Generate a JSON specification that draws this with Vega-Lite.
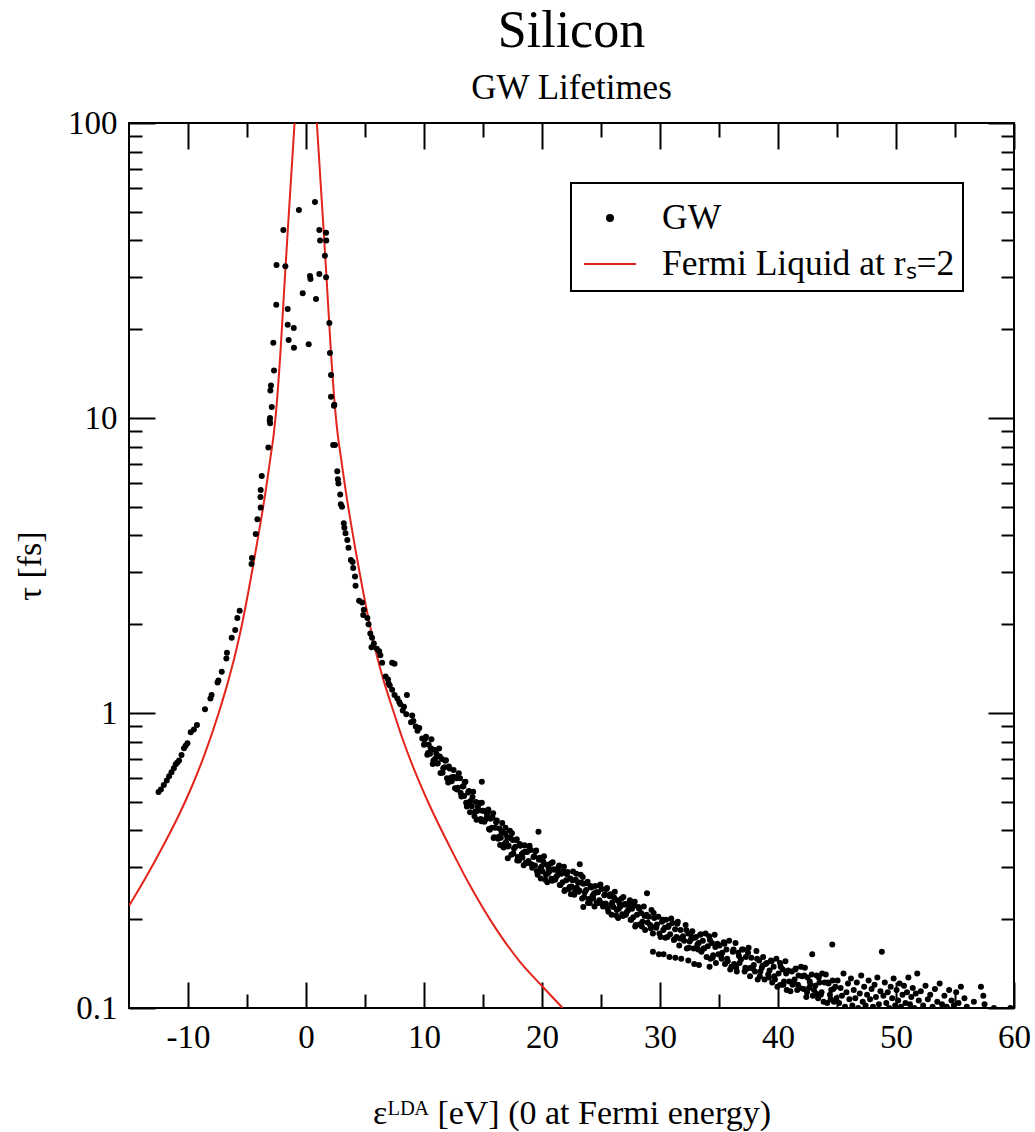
{
  "$schema": "https://vega.github.io/schema/vega-lite/v6.json",
  "width": 885,
  "height": 885,
  "autosize": {"type": "none"},
  "padding": {"left": 129, "top": 123, "right": 21, "bottom": 124},
  "background": "white",
  "title": {
    "text": "Silicon",
    "subtitle": "GW Lifetimes",
    "font": "Liberation Serif",
    "subtitleFont": "Liberation Serif",
    "fontSize": 52,
    "subtitleFontSize": 35,
    "fontWeight": "normal",
    "color": "black",
    "subtitleColor": "black",
    "anchor": "middle",
    "offset": 0,
    "subtitlePadding": 13
  },
  "config": {
    "view": {"stroke": "black", "strokeWidth": 2},
    "axis": {
      "labelFont": "Liberation Serif",
      "titleFont": "Liberation Serif",
      "labelColor": "black",
      "titleColor": "black",
      "tickColor": "black",
      "tickWidth": 2,
      "grid": false,
      "domain": false,
      "labelFlush": false,
      "labelOverlap": false,
      "titleFontWeight": "normal"
    }
  },
  "datasets": {
    "curve": [
      {"b": "L", "x": -15, "y": 0.222}, {"b": "L", "x": -13.58, "y": 0.277}, {"b": "L", "x": -12.18, "y": 0.35},
      {"b": "L", "x": -10.76, "y": 0.452}, {"b": "L", "x": -9.63, "y": 0.569}, {"b": "L", "x": -8.5, "y": 0.741},
      {"b": "L", "x": -7.4, "y": 1.0}, {"b": "L", "x": -6.6, "y": 1.28}, {"b": "L", "x": -6.05, "y": 1.55},
      {"b": "L", "x": -5.4, "y": 2.02}, {"b": "L", "x": -4.4, "y": 3.3}, {"b": "L", "x": -3.35, "y": 5.9},
      {"b": "L", "x": -3.0, "y": 7.4}, {"b": "L", "x": -2.75, "y": 8.7}, {"b": "L", "x": -2.52, "y": 10.7},
      {"b": "L", "x": -2.17, "y": 16.6}, {"b": "L", "x": -1.75, "y": 31.8}, {"b": "L", "x": -1.4, "y": 53.4},
      {"b": "L", "x": -0.97, "y": 100},
      {"b": "R", "x": 0.92, "y": 100}, {"b": "R", "x": 1.35, "y": 53.4}, {"b": "R", "x": 1.7, "y": 31.8},
      {"b": "R", "x": 2.12, "y": 16.6}, {"b": "R", "x": 2.47, "y": 10.7}, {"b": "R", "x": 2.7, "y": 8.7},
      {"b": "R", "x": 2.95, "y": 7.4}, {"b": "R", "x": 3.3, "y": 5.9}, {"b": "R", "x": 4.35, "y": 3.3},
      {"b": "R", "x": 5.35, "y": 2.04}, {"b": "R", "x": 6.0, "y": 1.567}, {"b": "R", "x": 6.55, "y": 1.3},
      {"b": "R", "x": 7.35, "y": 1.03}, {"b": "R", "x": 8.2, "y": 0.813}, {"b": "R", "x": 9.1, "y": 0.653},
      {"b": "R", "x": 10.5, "y": 0.484}, {"b": "R", "x": 12.2, "y": 0.351}, {"b": "R", "x": 13.9, "y": 0.26},
      {"b": "R", "x": 16.16, "y": 0.184}, {"b": "R", "x": 18.1, "y": 0.144}, {"b": "R", "x": 20.06, "y": 0.118},
      {"b": "R", "x": 21.75, "y": 0.1}
    ],
    "gw": [
      {"x":0.76,"y":54},{"x":-0.6,"y":50.7},{"x":-1.92,"y":43.4},{"x":1.13,"y":43.4},{"x":1.7,"y":42.5},{"x":1.72,"y":40},{"x":1.19,"y":40},{"x":1.6,"y":35.5},{"x":-2.5,"y":33},{"x":-1.75,"y":32.7},{"x":0.34,"y":30.3},{"x":0.38,"y":29.6},{"x":1.13,"y":30.8},{"x":1.7,"y":30},{"x":-0.28,"y":26.5},{"x":0.85,"y":25.3},{"x":-2.52,"y":24.2},{"x":-1.55,"y":23.4},{"x":-1.55,"y":20.7},{"x":-1.04,"y":20.2},{"x":1.98,"y":21},{"x":-2.77,"y":18},{"x":-1.47,"y":18.4},{"x":-1.02,"y":17.3},{"x":0.23,"y":17.8},{"x":2.03,"y":16.6},{"x":-2.71,"y":14.5},{"x":2.12,"y":14},{"x":-2.97,"y":12.9},{"x":-3.02,"y":12.4},{"x":2.12,"y":11.8},{"x":2.4,"y":11.1},{"x":-2.9,"y":10.9},{"x":-3.05,"y":10},
      {"x":-3.08,"y":9.8},{"x":-3.04,"y":9.6},{"x":-3.19,"y":7.94},{"x":-3.75,"y":6.36},{"x":-3.84,"y":5.7},{"x":-3.86,"y":5.4},{"x":-3.84,"y":4.97},{"x":-4.12,"y":4.54},{"x":-4.26,"y":4.04},{"x":-4.58,"y":3.35},{"x":-4.62,"y":3.2},{"x":-5.62,"y":2.22},{"x":-5.82,"y":2.1},{"x":-6.0,"y":1.91},{"x":-6.3,"y":1.8},{"x":-6.7,"y":1.6},{"x":-6.75,"y":1.53},{"x":-7.14,"y":1.38},{"x":-7.42,"y":1.29},{"x":-7.5,"y":1.27},{"x":-8.0,"y":1.15},{"x":-8.1,"y":1.12},{"x":-8.56,"y":1.03},{"x":-9.24,"y":0.91},{"x":-9.5,"y":0.88},{"x":-9.77,"y":0.86},{"x":-10.05,"y":0.79},{"x":-10.2,"y":0.775},{"x":-10.34,"y":0.76},{"x":-10.55,"y":0.72},{"x":-10.76,"y":0.69},{"x":-10.9,"y":0.68},{"x":-11.04,"y":0.67},{"x":-11.2,"y":0.65},{"x":-11.4,"y":0.63},{"x":-11.6,"y":0.61},{"x":-11.8,"y":0.59},{"x":-12.05,"y":0.57},{"x":-12.3,"y":0.55},{"x":-12.5,"y":0.54},
      {"x":2.37,"y":11.0},{"x":2.3,"y":8.1},{"x":2.45,"y":8.1},{"x":2.65,"y":6.6},{"x":2.7,"y":6.2},{"x":2.75,"y":6.0},{"x":2.9,"y":5.5},{"x":2.95,"y":5.1},{"x":3.05,"y":5.0},{"x":3.2,"y":4.4},{"x":3.25,"y":4.25},{"x":3.35,"y":4.07},{"x":3.5,"y":3.86},{"x":3.6,"y":3.63},{"x":3.8,"y":3.3},{"x":3.95,"y":3.25},{"x":4.0,"y":3.1},{"x":4.15,"y":2.9},{"x":4.2,"y":2.7},{"x":4.5,"y":2.4},{"x":4.75,"y":2.37},{"x":4.9,"y":2.24},{"x":4.85,"y":2.15},{"x":5.2,"y":2.1},{"x":5.3,"y":2.0},{"x":5.45,"y":1.86},{"x":5.6,"y":1.8},{"x":5.75,"y":1.72},{"x":5.55,"y":1.67},{"x":6.2,"y":1.62},{"x":6.3,"y":1.57},{"x":6.45,"y":1.48},{"x":7.3,"y":1.48},{"x":7.5,"y":1.47},{"x":6.75,"y":1.33},{"x":6.95,"y":1.3},{"x":7.1,"y":1.24},{"x":7.3,"y":1.2},{"x":7.5,"y":1.15},{"x":7.75,"y":1.12},{"x":8.0,"y":1.07},{"x":8.55,"y":1.15},{"x":8.5,"y":0.99},{"x":8.2,"y":1.02},{"x":9.0,"y":0.98},{"x":9.3,"y":0.9},{"x":8.9,"y":0.93},{"x":9.6,"y":0.89},{"x":9.85,"y":0.82},{"x":10.0,"y":0.78},{"x":6.0,"y":1.65},{"x":7.0,"y":1.26},{"x":7.9,"y":1.09},{"x":8.3,"y":1.05},{"x":9.1,"y":0.94},{"x":9.45,"y":0.87},
      {"x":10.05,"y":0.786},{"x":10.17,"y":0.83},{"x":10.28,"y":0.722},{"x":10.4,"y":0.781},{"x":10.51,"y":0.727},{"x":10.63,"y":0.814},{"x":10.74,"y":0.672},{"x":10.86,"y":0.75},{"x":10.95,"y":0.7},
      {"x":11.05,"y":0.727},{"x":11.17,"y":0.676},{"x":11.28,"y":0.758},{"x":11.4,"y":0.626},{"x":11.51,"y":0.699},{"x":11.63,"y":0.65},{"x":11.74,"y":0.655},{"x":11.86,"y":0.691},{"x":11.95,"y":0.601},
      {"x":12.05,"y":0.581},{"x":12.17,"y":0.648},{"x":12.28,"y":0.603},{"x":12.4,"y":0.607},{"x":12.51,"y":0.641},{"x":12.63,"y":0.556},{"x":12.74,"y":0.601},{"x":12.86,"y":0.558},{"x":12.95,"y":0.625},
      {"x":13.05,"y":0.601},{"x":13.17,"y":0.521},{"x":13.28,"y":0.563},{"x":13.4,"y":0.523},{"x":13.51,"y":0.585},{"x":13.63,"y":0.482},{"x":13.74,"y":0.538},{"x":13.86,"y":0.499},{"x":13.95,"y":0.503},
      {"x":14.05,"y":0.483},{"x":14.17,"y":0.541},{"x":14.28,"y":0.447},{"x":14.4,"y":0.499},{"x":14.51,"y":0.465},{"x":14.63,"y":0.469},{"x":14.74,"y":0.495},{"x":14.86,"y":0.43},{"x":14.95,"y":0.466},{"x":14.9,"y":0.585},
      {"x":15.05,"y":0.466},{"x":15.17,"y":0.434},{"x":15.28,"y":0.439},{"x":15.4,"y":0.464},{"x":15.51,"y":0.404},{"x":15.63,"y":0.438},{"x":15.74,"y":0.408},{"x":15.86,"y":0.457},{"x":15.95,"y":0.379},
      {"x":16.05,"y":0.408},{"x":16.17,"y":0.432},{"x":16.28,"y":0.375},{"x":16.4,"y":0.406},{"x":16.51,"y":0.378},{"x":16.63,"y":0.424},{"x":16.74,"y":0.35},{"x":16.86,"y":0.391},{"x":16.95,"y":0.365},
      {"x":17.05,"y":0.38},{"x":17.17,"y":0.355},{"x":17.28,"y":0.399},{"x":17.4,"y":0.331},{"x":17.51,"y":0.371},{"x":17.63,"y":0.347},{"x":17.74,"y":0.352},{"x":17.86,"y":0.373},{"x":17.95,"y":0.325},{"x":17.1,"y":0.322},
      {"x":18.05,"y":0.316},{"x":18.17,"y":0.355},{"x":18.28,"y":0.332},{"x":18.4,"y":0.336},{"x":18.51,"y":0.356},{"x":18.63,"y":0.311},{"x":18.74,"y":0.338},{"x":18.86,"y":0.315},{"x":18.95,"y":0.355},
      {"x":19.05,"y":0.343},{"x":19.17,"y":0.299},{"x":19.28,"y":0.325},{"x":19.4,"y":0.304},{"x":19.51,"y":0.342},{"x":19.63,"y":0.283},{"x":19.74,"y":0.318},{"x":19.86,"y":0.297},{"x":19.95,"y":0.301},{"x":19.7,"y":0.396},
      {"x":20.05,"y":0.29},{"x":20.17,"y":0.327},{"x":20.28,"y":0.272},{"x":20.4,"y":0.306},{"x":20.51,"y":0.286},{"x":20.63,"y":0.291},{"x":20.74,"y":0.309},{"x":20.86,"y":0.27},{"x":20.95,"y":0.295},
      {"x":21.05,"y":0.295},{"x":21.17,"y":0.277},{"x":21.28,"y":0.281},{"x":21.4,"y":0.3},{"x":21.51,"y":0.261},{"x":21.63,"y":0.285},{"x":21.74,"y":0.267},{"x":21.86,"y":0.301},{"x":21.95,"y":0.251},
      {"x":22.05,"y":0.271},{"x":22.17,"y":0.289},{"x":22.28,"y":0.253},{"x":22.4,"y":0.275},{"x":22.51,"y":0.258},{"x":22.63,"y":0.29},{"x":22.74,"y":0.242},{"x":22.86,"y":0.272},{"x":22.95,"y":0.256},
      {"x":23.05,"y":0.267},{"x":23.17,"y":0.25},{"x":23.28,"y":0.283},{"x":23.4,"y":0.235},{"x":23.51,"y":0.264},{"x":23.63,"y":0.247},{"x":23.74,"y":0.251},{"x":23.86,"y":0.268},{"x":23.95,"y":0.234},{"x":23.2,"y":0.307},{"x":23.5,"y":0.22},
      {"x":24.05,"y":0.227},{"x":24.17,"y":0.256},{"x":24.28,"y":0.24},{"x":24.4,"y":0.244},{"x":24.51,"y":0.259},{"x":24.63,"y":0.227},{"x":24.74,"y":0.247},{"x":24.86,"y":0.232},{"x":24.95,"y":0.262},
      {"x":25.05,"y":0.253},{"x":25.17,"y":0.221},{"x":25.28,"y":0.241},{"x":25.4,"y":0.226},{"x":25.51,"y":0.255},{"x":25.63,"y":0.212},{"x":25.74,"y":0.239},{"x":25.86,"y":0.224},{"x":25.95,"y":0.228},
      {"x":26.05,"y":0.22},{"x":26.17,"y":0.248},{"x":26.28,"y":0.206},{"x":26.4,"y":0.232},{"x":26.51,"y":0.217},{"x":26.63,"y":0.221},{"x":26.74,"y":0.235},{"x":26.86,"y":0.205},{"x":26.95,"y":0.224},
      {"x":27.05,"y":0.225},{"x":27.17,"y":0.211},{"x":27.28,"y":0.214},{"x":27.4,"y":0.228},{"x":27.51,"y":0.199},{"x":27.63,"y":0.217},{"x":27.74,"y":0.203},{"x":27.86,"y":0.229},{"x":27.95,"y":0.191},
      {"x":28.05,"y":0.207},{"x":28.17,"y":0.22},{"x":28.28,"y":0.192},{"x":28.4,"y":0.21},{"x":28.51,"y":0.196},{"x":28.63,"y":0.221},{"x":28.74,"y":0.184},{"x":28.86,"y":0.207},{"x":28.95,"y":0.195},{"x":28.9,"y":0.245},
      {"x":29.05,"y":0.204},{"x":29.17,"y":0.191},{"x":29.28,"y":0.215},{"x":29.4,"y":0.179},{"x":29.51,"y":0.202},{"x":29.63,"y":0.189},{"x":29.74,"y":0.192},{"x":29.86,"y":0.204},{"x":29.95,"y":0.179},{"x":29.4,"y":0.155},{"x":29.9,"y":0.152},
      {"x":30.05,"y":0.174},{"x":30.17,"y":0.196},{"x":30.28,"y":0.184},{"x":30.4,"y":0.187},{"x":30.51,"y":0.199},{"x":30.63,"y":0.174},{"x":30.74,"y":0.19},{"x":30.86,"y":0.178},{"x":30.95,"y":0.201},{"x":30.3,"y":0.152},{"x":30.8,"y":0.149},
      {"x":31.05,"y":0.194},{"x":31.17,"y":0.17},{"x":31.28,"y":0.185},{"x":31.4,"y":0.174},{"x":31.51,"y":0.196},{"x":31.63,"y":0.163},{"x":31.74,"y":0.184},{"x":31.86,"y":0.172},{"x":31.95,"y":0.175},{"x":31.3,"y":0.148},{"x":31.8,"y":0.147},
      {"x":32.05,"y":0.169},{"x":32.17,"y":0.191},{"x":32.28,"y":0.159},{"x":32.4,"y":0.179},{"x":32.51,"y":0.168},{"x":32.63,"y":0.171},{"x":32.74,"y":0.182},{"x":32.86,"y":0.159},{"x":32.95,"y":0.173},{"x":32.4,"y":0.145},{"x":32.9,"y":0.141},
      {"x":33.05,"y":0.174},{"x":33.17,"y":0.164},{"x":33.28,"y":0.166},{"x":33.4,"y":0.177},{"x":33.51,"y":0.155},{"x":33.63,"y":0.169},{"x":33.74,"y":0.159},{"x":33.86,"y":0.179},{"x":33.95,"y":0.149},{"x":33.3,"y":0.14},{"x":34.2,"y":0.138},
      {"x":34.05,"y":0.162},{"x":34.17,"y":0.175},{"x":34.28,"y":0.147},{"x":34.4,"y":0.166},{"x":34.51,"y":0.151},{"x":34.63,"y":0.177},{"x":34.74,"y":0.142},{"x":34.86,"y":0.165},{"x":34.95,"y":0.152},
      {"x":35.05,"y":0.163},{"x":35.17,"y":0.15},{"x":35.28,"y":0.154},{"x":35.4,"y":0.167},{"x":35.51,"y":0.141},{"x":35.63,"y":0.158},{"x":35.74,"y":0.144},{"x":35.86,"y":0.169},{"x":35.95,"y":0.135},
      {"x":36.05,"y":0.138},{"x":36.17,"y":0.155},{"x":36.28,"y":0.141},{"x":36.4,"y":0.166},{"x":36.51,"y":0.133},{"x":36.63,"y":0.154},{"x":36.74,"y":0.142},{"x":36.86,"y":0.146},{"x":36.95,"y":0.158},
      {"x":37.05,"y":0.158},{"x":37.17,"y":0.133},{"x":37.28,"y":0.149},{"x":37.4,"y":0.136},{"x":37.51,"y":0.16},{"x":37.63,"y":0.128},{"x":37.74,"y":0.148},{"x":37.86,"y":0.136},{"x":37.95,"y":0.14},
      {"x":38.05,"y":0.133},{"x":38.17,"y":0.156},{"x":38.28,"y":0.125},{"x":38.4,"y":0.145},{"x":38.51,"y":0.133},{"x":38.63,"y":0.137},{"x":38.74,"y":0.149},{"x":38.86,"y":0.125},{"x":38.95,"y":0.141},
      {"x":39.05,"y":0.142},{"x":39.17,"y":0.13},{"x":39.28,"y":0.134},{"x":39.4,"y":0.145},{"x":39.51,"y":0.122},{"x":39.63,"y":0.138},{"x":39.74,"y":0.125},{"x":39.86,"y":0.147},{"x":39.95,"y":0.118},
      {"x":40.05,"y":0.131},{"x":40.17,"y":0.142},{"x":40.28,"y":0.12},{"x":40.4,"y":0.135},{"x":40.51,"y":0.123},{"x":40.63,"y":0.144},{"x":40.74,"y":0.115},{"x":40.86,"y":0.134},{"x":40.95,"y":0.123},
      {"x":41.05,"y":0.114},{"x":41.17,"y":0.133},{"x":41.28,"y":0.122},{"x":41.4,"y":0.125},{"x":41.51,"y":0.136},{"x":41.63,"y":0.115},{"x":41.74,"y":0.129},{"x":41.86,"y":0.117},{"x":41.95,"y":0.138},
      {"x":42.05,"y":0.128},{"x":42.17,"y":0.116},{"x":42.28,"y":0.137},{"x":42.4,"y":0.109},{"x":42.51,"y":0.127},{"x":42.63,"y":0.117},{"x":42.74,"y":0.12},{"x":42.86,"y":0.13},{"x":42.95,"y":0.11},{"x":42.9,"y":0.152},
      {"x":43.05,"y":0.115},{"x":43.17,"y":0.119},{"x":43.28,"y":0.129},{"x":43.4,"y":0.108},{"x":43.51,"y":0.122},{"x":43.63,"y":0.111},{"x":43.74,"y":0.131},{"x":43.86,"y":0.105},{"x":43.95,"y":0.122},
      {"x":44.05,"y":0.13},{"x":44.17,"y":0.104},{"x":44.28,"y":0.121},{"x":44.4,"y":0.111},{"x":44.51,"y":0.115},{"x":44.63,"y":0.124},{"x":44.74,"y":0.105},{"x":44.86,"y":0.118},{"x":44.95,"y":0.108},{"x":44.6,"y":0.164},
      {"x":45.05,"y":0.124},{"x":45.18,"y":0.104},{"x":45.3,"y":0.117},{"x":45.42,"y":0.11},{"x":45.55,"y":0.131},{"x":45.68,"y":0.101},{"x":45.8,"y":0.113},{"x":45.93,"y":0.121},
      {"x":46.05,"y":0.107},{"x":46.18,"y":0.126},{"x":46.3,"y":0.102},{"x":46.42,"y":0.115},{"x":46.55,"y":0.108},{"x":46.68,"y":0.122},{"x":46.8,"y":0.1},{"x":46.93,"y":0.112},
      {"x":47.05,"y":0.129},{"x":47.18,"y":0.105},{"x":47.3,"y":0.118},{"x":47.42,"y":0.102},{"x":47.55,"y":0.111},{"x":47.68,"y":0.124},{"x":47.8,"y":0.107},{"x":47.93,"y":0.116},
      {"x":48.05,"y":0.101},{"x":48.18,"y":0.12},{"x":48.3,"y":0.109},{"x":48.42,"y":0.127},{"x":48.55,"y":0.103},{"x":48.68,"y":0.114},{"x":48.8,"y":0.155},{"x":48.93,"y":0.11},
      {"x":49.05,"y":0.122},{"x":49.18,"y":0.104},{"x":49.3,"y":0.113},{"x":49.42,"y":0.1},{"x":49.55,"y":0.118},{"x":49.68,"y":0.108},{"x":49.8,"y":0.126},{"x":49.93,"y":0.102},
      {"x":50.05,"y":0.115},{"x":50.18,"y":0.106},{"x":50.3,"y":0.121},{"x":50.42,"y":0.101},{"x":50.55,"y":0.111},{"x":50.68,"y":0.119},{"x":50.8,"y":0.104},{"x":50.93,"y":0.113},
      {"x":51.05,"y":0.127},{"x":51.18,"y":0.103},{"x":51.3,"y":0.109},{"x":51.42,"y":0.117},{"x":51.55,"y":0.1},{"x":51.68,"y":0.112},{"x":51.8,"y":0.131},{"x":51.93,"y":0.106},
      {"x":52.1,"y":0.114},{"x":52.3,"y":0.102},{"x":52.5,"y":0.119},{"x":52.7,"y":0.107},{"x":52.9,"y":0.111},{"x":53.1,"y":0.101},{"x":53.3,"y":0.116},{"x":53.5,"y":0.105},{"x":53.7,"y":0.121},{"x":53.9,"y":0.103},
      {"x":54.1,"y":0.11},{"x":54.3,"y":0.101},{"x":54.5,"y":0.115},{"x":54.7,"y":0.106},{"x":54.9,"y":0.102},{"x":55.1,"y":0.113},{"x":55.3,"y":0.104},{"x":55.5,"y":0.118},{"x":55.8,"y":0.108},{"x":56.0,"y":0.101},
      {"x":56.6,"y":0.105},{"x":57.2,"y":0.118},{"x":57.4,"y":0.11},{"x":57.5,"y":0.103},{"x":58.3,"y":0.1},{"x":59.7,"y":0.1},
      {"x":10.11,"y":0.82},{"x":10.34,"y":0.732},{"x":10.57,"y":0.759},{"x":10.8,"y":0.69},
      {"x":11.11,"y":0.674},{"x":11.34,"y":0.712},{"x":11.57,"y":0.627},{"x":11.8,"y":0.689},
      {"x":12.11,"y":0.658},{"x":12.34,"y":0.587},{"x":12.57,"y":0.607},{"x":12.8,"y":0.55},
      {"x":13.11,"y":0.536},{"x":13.34,"y":0.565},{"x":13.57,"y":0.496},{"x":13.8,"y":0.544},
      {"x":14.11,"y":0.519},{"x":14.34,"y":0.464},{"x":14.57,"y":0.481},{"x":14.8,"y":0.437},
      {"x":15.11,"y":0.428},{"x":15.34,"y":0.454},{"x":15.57,"y":0.402},{"x":15.8,"y":0.443},
      {"x":16.11,"y":0.426},{"x":16.34,"y":0.381},{"x":16.57,"y":0.395},{"x":16.8,"y":0.359},
      {"x":17.11,"y":0.353},{"x":17.34,"y":0.376},{"x":17.57,"y":0.334},{"x":17.8,"y":0.371},
      {"x":18.11,"y":0.36},{"x":18.34,"y":0.324},{"x":18.57,"y":0.339},{"x":18.8,"y":0.31},
      {"x":19.11,"y":0.307},{"x":19.34,"y":0.327},{"x":19.57,"y":0.291},{"x":19.8,"y":0.323},
      {"x":20.11,"y":0.313},{"x":20.34,"y":0.283},{"x":20.57,"y":0.297},{"x":20.8,"y":0.274},
      {"x":21.11,"y":0.272},{"x":21.34,"y":0.292},{"x":21.57,"y":0.261},{"x":21.8,"y":0.291},
      {"x":22.11,"y":0.284},{"x":22.34,"y":0.257},{"x":22.57,"y":0.271},{"x":22.8,"y":0.249},
      {"x":23.11,"y":0.248},{"x":23.34,"y":0.266},{"x":23.57,"y":0.238},{"x":23.8,"y":0.265},
      {"x":24.11,"y":0.259},{"x":24.34,"y":0.235},{"x":24.57,"y":0.247},{"x":24.8,"y":0.227},
      {"x":25.11,"y":0.226},{"x":25.34,"y":0.243},{"x":25.57,"y":0.217},{"x":25.8,"y":0.243},
      {"x":26.11,"y":0.237},{"x":26.34,"y":0.215},{"x":26.57,"y":0.226},{"x":26.8,"y":0.208},
      {"x":27.11,"y":0.207},{"x":27.34,"y":0.222},{"x":27.57,"y":0.199},{"x":27.8,"y":0.222},
      {"x":13.45,"y":0.584},{"x":13.9,"y":0.461},{"x":14.45,"y":0.435},{"x":14.9,"y":0.496},
      {"x":15.45,"y":0.471},{"x":15.9,"y":0.377},{"x":16.45,"y":0.357},{"x":16.9,"y":0.408},
      {"x":17.45,"y":0.391},{"x":17.9,"y":0.316},{"x":18.45,"y":0.305},{"x":18.9,"y":0.353},
      {"x":19.45,"y":0.34},{"x":19.9,"y":0.275},{"x":20.45,"y":0.267},{"x":20.9,"y":0.312},
      {"x":21.45,"y":0.304},{"x":21.9,"y":0.249},{"x":22.45,"y":0.243},{"x":22.9,"y":0.285},
      {"x":23.45,"y":0.278},{"x":23.9,"y":0.227},{"x":24.45,"y":0.221},{"x":24.9,"y":0.26},
      {"x":25.45,"y":0.253},{"x":25.9,"y":0.207},{"x":26.45,"y":0.202},{"x":26.9,"y":0.238},
      {"x":27.45,"y":0.232},{"x":27.9,"y":0.189},
      {"x":28.23,"y":0.217},{"x":28.46,"y":0.189},{"x":28.69,"y":0.205},
      {"x":29.23,"y":0.186},{"x":29.46,"y":0.21},{"x":29.69,"y":0.187},
      {"x":30.23,"y":0.199},{"x":30.46,"y":0.173},{"x":30.69,"y":0.188},
      {"x":31.23,"y":0.171},{"x":31.46,"y":0.193},{"x":31.69,"y":0.172},
      {"x":32.23,"y":0.184},{"x":32.46,"y":0.16},{"x":32.69,"y":0.174},
      {"x":33.23,"y":0.158},{"x":33.46,"y":0.178},{"x":33.69,"y":0.159},
      {"x":34.23,"y":0.17},{"x":34.46,"y":0.148},{"x":34.69,"y":0.161},
      {"x":35.23,"y":0.147},{"x":35.46,"y":0.165},{"x":35.69,"y":0.147},
      {"x":36.23,"y":0.158},{"x":36.46,"y":0.137},{"x":36.69,"y":0.15},
      {"x":37.23,"y":0.137},{"x":37.46,"y":0.154},{"x":37.69,"y":0.137},
      {"x":38.23,"y":0.147},{"x":38.46,"y":0.128},{"x":38.69,"y":0.139},
      {"x":39.23,"y":0.127},{"x":39.46,"y":0.144},{"x":39.69,"y":0.128},
      {"x":40.23,"y":0.138},{"x":40.46,"y":0.12},{"x":40.69,"y":0.131},
      {"x":41.23,"y":0.12},{"x":41.46,"y":0.135},{"x":41.69,"y":0.12},
      {"x":42.23,"y":0.129},{"x":42.46,"y":0.113},{"x":42.69,"y":0.123},
      {"x":43.23,"y":0.112},{"x":43.46,"y":0.127},{"x":43.69,"y":0.113},
      {"x":44.23,"y":0.122},{"x":44.46,"y":0.107},{"x":44.69,"y":0.116}
    ]
  },
  "resolve": {"axis": {"x": "independent", "y": "independent"}},
  "layer": [
    {
      "data": {"name": "curve"},
      "mark": {"type": "line", "strokeWidth": 2, "interpolate": "monotone", "clip": true},
      "encoding": {
        "x": {
          "field": "x", "type": "quantitative",
          "scale": {"domain": [-15, 60], "nice": false, "zero": false},
          "axis": {
            "orient": "bottom",
            "values": [-10, -5, 0, 5, 10, 15, 20, 25, 30, 35, 40, 45, 50, 55, 60],
            "tickSize": {"condition": {"test": "datum.value % 10 === 0", "value": -26}, "value": -14},
            "labelExpr": "datum.value % 10 === 0 ? '' + datum.value : ''",
            "labelPadding": 39,
            "labelFontSize": 33,
            "title": "εᴸᴰᴬ [eV] (0 at Fermi energy)",
            "titleFontSize": 34,
            "titlePadding": 30
          }
        },
        "y": {
          "field": "y", "type": "quantitative",
          "scale": {"type": "log", "domain": [0.1, 100], "nice": false},
          "axis": {
            "orient": "left",
            "values": [0.1, 0.2, 0.3, 0.4, 0.5, 0.6, 0.7, 0.8, 0.9, 1, 2, 3, 4, 5, 6, 7, 8, 9, 10, 20, 30, 40, 50, 60, 70, 80, 90, 100],
            "tickSize": {"condition": {"test": "datum.value === 0.1 || datum.value === 1 || datum.value === 10 || datum.value === 100", "value": -26}, "value": -13},
            "labelExpr": "(datum.value === 0.1 || datum.value === 1 || datum.value === 10 || datum.value === 100) ? '' + datum.value : ''",
            "labelPadding": 38,
            "labelFontSize": 33,
            "title": "τ [fs]",
            "titleFontSize": 34,
            "titlePadding": 20
          }
        },
        "detail": {"field": "b"},
        "color": {
          "datum": "Fermi Liquid at rₛ=2",
          "scale": {"domain": ["GW", "Fermi Liquid at rₛ=2"], "range": ["black", "#e3241b"]},
          "legend": {
            "orient": "none",
            "legendX": 442,
            "legendY": 60,
            "title": null,
            "labelFont": "Liberation Serif",
            "labelFontSize": 35.5,
            "labelColor": "black",
            "labelLimit": 0,
            "strokeColor": "black",
            "padding": 8,
            "symbolSize": 2704,
            "symbolStrokeWidth": 2,
            "symbolOffset": 4,
            "labelOffset": 25,
            "rowPadding": -6.5,
            "encode": {
              "legend": {"update": {"strokeWidth": {"value": 2}}},
              "symbols": {
                "update": {
                  "shape": {"signal": "datum.value === 'GW' ? 'circle' : 'stroke'"},
                  "size": {"signal": "datum.value === 'GW' ? 36 : 2704"},
                  "fill": {"signal": "datum.value === 'GW' ? 'black' : 'transparent'"},
                  "stroke": {"signal": "datum.value === 'GW' ? 'transparent' : '#e3241b'"},
                  "strokeWidth": {"value": 2},
                  "opacity": {"value": 1}
                }
              }
            }
          }
        }
      }
    },
    {
      "data": {"name": "gw"},
      "mark": {"type": "point", "filled": true, "size": 36, "opacity": 1, "clip": true},
      "encoding": {
        "x": {
          "field": "x", "type": "quantitative",
          "axis": {
            "orient": "top",
            "values": [-10, -5, 0, 5, 10, 15, 20, 25, 30, 35, 40, 45, 50, 55, 60],
            "tickSize": {"condition": {"test": "datum.value % 10 === 0", "value": -26}, "value": -14},
            "labels": false,
            "title": null
          }
        },
        "y": {
          "field": "y", "type": "quantitative",
          "axis": {
            "orient": "right",
            "values": [0.1, 0.2, 0.3, 0.4, 0.5, 0.6, 0.7, 0.8, 0.9, 1, 2, 3, 4, 5, 6, 7, 8, 9, 10, 20, 30, 40, 50, 60, 70, 80, 90, 100],
            "tickSize": {"condition": {"test": "datum.value === 0.1 || datum.value === 1 || datum.value === 10 || datum.value === 100", "value": -26}, "value": -13},
            "labels": false,
            "title": null
          }
        },
        "color": {"datum": "GW"}
      }
    }
  ]
}
